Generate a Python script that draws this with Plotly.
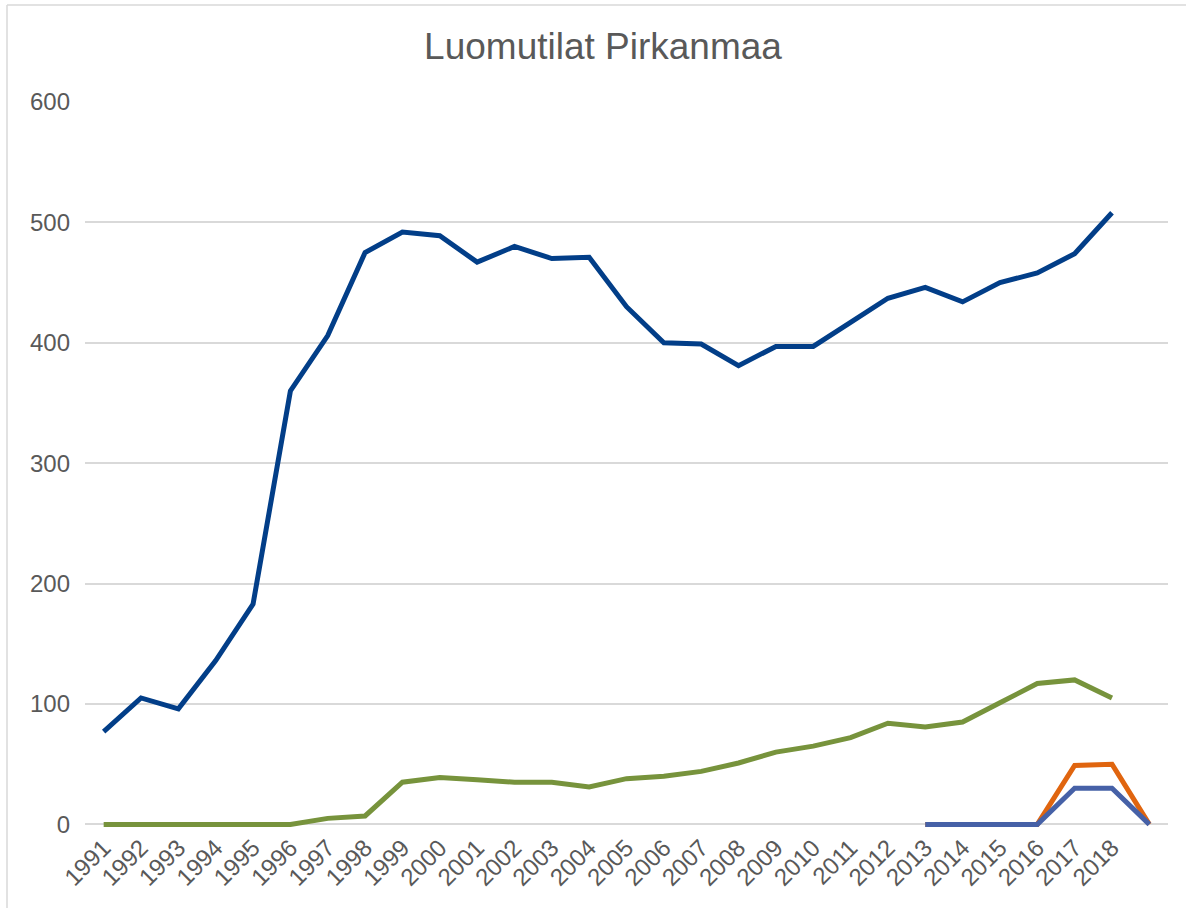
import plotly.graph_objects as go

years = [str(y) for y in range(1991, 2019)]
n_cat = 29  # 28 labelled years + one unlabelled trailing category

total = [77, 105, 96, 136, 183, 360, 406, 475, 492, 489, 467, 480, 470, 471,
         430, 400, 399, 381, 397, 397, 417, 437, 446, 434, 450, 458, 474, 508]
green = [0, 0, 0, 0, 0, 0, 5, 7, 35, 39, 37, 35, 35, 31,
         38, 40, 44, 51, 60, 65, 72, 84, 81, 85, 101, 117, 120, 105]
orange = [0, 0, 0, 0, 49, 50, 0]      # 2013 .. trailing category
lightblue = [0, 0, 0, 0, 30, 30, 0]   # 2013 .. trailing category
small_start = 22

W, H = 1186, 908
ymin, ymax = -3, 600
unit = 722 / 600  # px per unit between 0 and 600 gridlines
L, R, T = 85, 18, 102
B = round(908 - (824 + (-ymin) * unit))
pw, ph = W - L - R, H - T - B

def px_x(p):
    return (p - L) / pw

def px_y(p):
    return (H - B - p) / ph

idx = list(range(n_cat))
lw = 5
fig = go.Figure()
fig.add_trace(go.Scatter(x=idx[:len(total)], y=total, mode="lines",
                         line=dict(color="#023E88", width=lw), name="s1"))
fig.add_trace(go.Scatter(x=idx[:len(green)], y=green, mode="lines",
                         line=dict(color="#77933C", width=lw), name="s2"))
fig.add_trace(go.Scatter(x=idx[small_start:small_start + len(orange)], y=orange,
                         mode="lines", line=dict(color="#E0650F", width=lw), name="s3"))
fig.add_trace(go.Scatter(x=idx[small_start:small_start + len(lightblue)], y=lightblue,
                         mode="lines", line=dict(color="#4661A7", width=lw), name="s4"))

fig.update_layout(
    width=W, height=H,
    margin=dict(l=L, r=R, t=T, b=B),
    paper_bgcolor="white", plot_bgcolor="white",
    showlegend=False,
    font=dict(family="Liberation Sans, Arial, sans-serif", color="#595959"),
    title=dict(text="Luomutilat Pirkanmaa", x=603 / W, xanchor="center",
               y=1 - 46 / H, yanchor="middle", xref="container", yref="container",
               font=dict(size=37, color="#595959")),
    xaxis=dict(range=[-0.5, n_cat - 0.5], tickmode="array",
               tickvals=list(range(len(years))), ticktext=years,
               tickangle=-45, tickfont=dict(size=24, color="#595959"),
               showgrid=False, zeroline=False, showline=False, ticks="",
               ticklabelstandoff=0),
    yaxis=dict(range=[ymin, ymax], tickvals=[0, 100, 200, 300, 400, 500, 600],
               tickfont=dict(size=24, color="#595959"),
               showgrid=True, gridcolor="#D9D9D9", gridwidth=1.5,
               zeroline=False, showline=False, ticks="", ticklabelstandoff=14),
    shapes=[
        dict(type="line", xref="paper", yref="paper", layer="below",
             x0=px_x(7), x1=px_x(7), y0=px_y(5), y1=px_y(920),
             line=dict(color="#D9D9D9", width=1.5)),
        dict(type="line", xref="paper", yref="paper", layer="below",
             x0=px_x(7), x1=px_x(1200), y0=px_y(5), y1=px_y(5),
             line=dict(color="#D9D9D9", width=1.5)),
    ],
)

fig.write_html("out.html", config={"displayModeBar": False},
               post_script="document.body.style.margin='0px';document.body.style.overflow='hidden';")
